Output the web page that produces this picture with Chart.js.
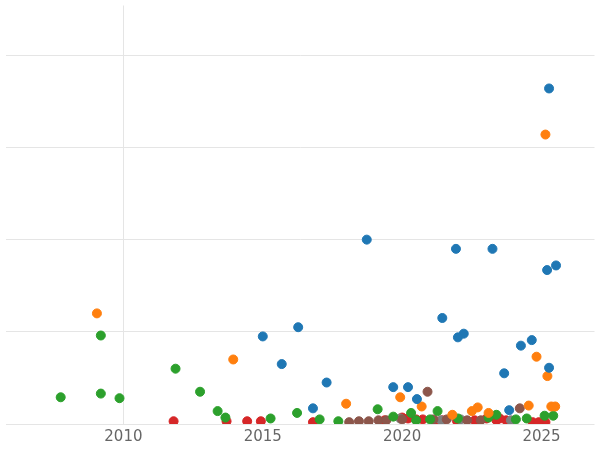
<!DOCTYPE html>
<html><head><meta charset="utf-8">
<script src="https://cdn.jsdelivr.net/npm/chart.js@4"></script>
<style>body{margin:0;background:#fff}#w{width:600px;height:450px}</style>
</head><body><div id="w"><canvas id="c"></canvas></div>
<script>
const xTicks = [2010, 2015, 2020, 2025];
const blueX = [2025.27,2018.73,2021.93,2023.24,2025.2,2025.52,2021.44,2016.27,2015.0,2022.21,2022.0,2024.65,2024.26,2015.68,2025.27,2023.66,2017.29,2019.68,2020.21,2020.53,2016.8,2023.84];
const blueY = [3.64,2.0,1.9,1.9,1.67,1.72,1.15,1.05,0.95,0.98,0.94,0.91,0.85,0.65,0.61,0.55,0.45,0.40,0.40,0.27,0.17,0.15];
const orangeX = [2025.14,2009.05,2013.94,2024.82,2025.21,2017.99,2019.93,2020.7,2022.71,2024.54,2025.35,2025.49,2021.8,2022.5,2023.1];
const orangeY = [3.14,1.2,0.7,0.73,0.52,0.22,0.29,0.19,0.18,0.2,0.19,0.19,0.1,0.14,0.12];
const greenX = [2009.19,2011.87,2007.75,2009.19,2009.86,2012.75,2013.38,2013.66,2015.28,2016.23,2017.04,2017.71,2019.12,2019.68,2020.32,2021.27,2023.38,2024.08,2024.47,2025.11,2025.42,2020.5,2021.0,2022.0,2023.1];
const greenY = [0.96,0.6,0.29,0.33,0.28,0.35,0.14,0.07,0.06,0.12,0.05,0.03,0.16,0.08,0.12,0.14,0.1,0.05,0.06,0.09,0.09,0.04,0.05,0.06,0.07];
const redX = [2011.8,2013.7,2014.44,2014.93,2016.8,2019.37,2020.0,2020.21,2020.74,2021.44,2021.97,2023.03,2023.38,2023.73,2024.68,2025.14,2020.5,2021.2,2022.6,2023.5,2024.9];
const redY = [0.03,0.03,0.03,0.03,0.02,0.04,0.07,0.06,0.05,0.04,0.03,0.06,0.04,0.04,0.02,0.02,0.05,0.03,0.04,0.06,0.02];
const brownX = [2020.91,2024.22,2018.1,2018.45,2018.8,2019.15,2019.43,2021.12,2022.33,2022.82,2020.0,2021.6];
const brownY = [0.35,0.17,0.02,0.03,0.03,0.04,0.04,0.05,0.04,0.04,0.05,0.05];
const grayX = [2019.93,2021.4,2022.1,2023.9];
const grayY = [0.06,0.04,0.05,0.04];
const pts = (xs, ys) => xs.map((x, i) => ({x, y: ys[i]}));
const ds = (d, c) => ({data: d, backgroundColor: c, borderColor: c, pointRadius: 4.5, pointHoverRadius: 4.5});
new Chart(document.getElementById('c'), {
  type: 'scatter',
  data: {datasets: [
    ds(pts(blueX, blueY), '#1f77b4'),
    ds(pts(orangeX, orangeY), '#ff7f0e'),
    ds(pts(greenX, greenY), '#2ca02c'),
    ds(pts(brownX, brownY), '#8c564b'),
    ds(pts(grayX, grayY), '#7f7f7f'),
    ds(pts(redX, redY), '#d62728')
  ]},
  options: {
    responsive: true, maintainAspectRatio: false, animation: false,
    layout: {padding: {left: -6, right: -6, top: -6, bottom: 0}},
    plugins: {legend: {display: false}, tooltip: {enabled: false}},
    scales: {
      x: {type: 'linear', min: 2005.77, max: 2026.9,
        afterBuildTicks: a => { a.ticks = xTicks.map(v => ({value: v})); },
        ticks: {color: '#666', font: {family: 'DejaVu Sans', size: 15}, padding: 4, callback: v => String(v)},
        border: {display: false},
        grid: {color: c => c.tick && c.tick.value === 2010 ? '#e5e5e5' : 'rgba(0,0,0,0)', drawTicks: false}
      },
      y: {min: 0, max: 4.54,
        afterBuildTicks: a => { a.ticks = [0,1,2,3,4].map(v => ({value: v})); },
        ticks: {display: false}, border: {display: false},
        grid: {color: '#e5e5e5', drawTicks: false}
      }
    }
  }
});
</script></body></html>
